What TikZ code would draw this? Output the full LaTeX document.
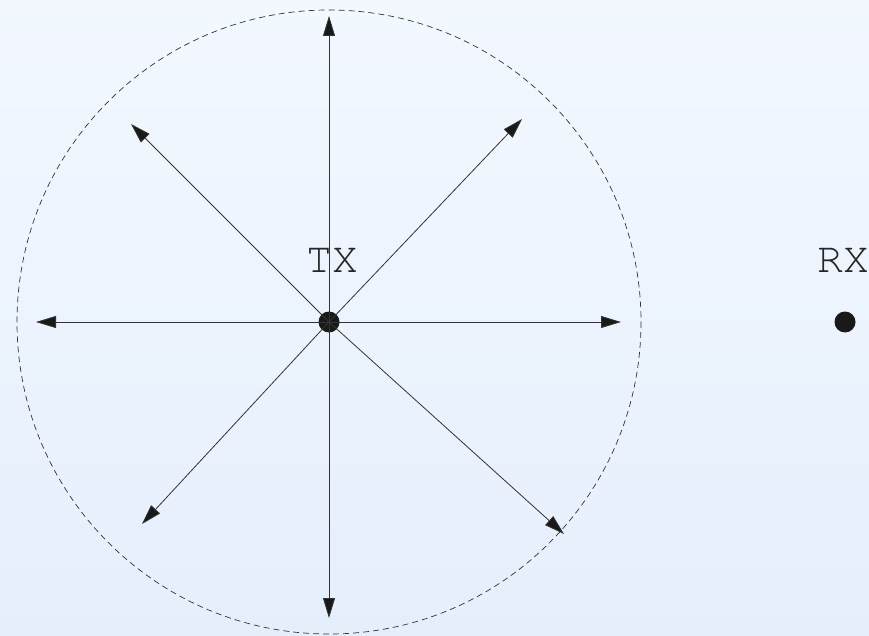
\documentclass[tikz,border=0pt]{standalone}
\usepackage[T1]{fontenc}
\usetikzlibrary{arrows.meta}
\definecolor{bgtop}{RGB}{243,248,255}
\definecolor{bgbottom}{RGB}{229,239,252}

\begin{document}
\begin{tikzpicture}[x=1pt,y=-1pt,
  station/.style={circle,fill=black!90,inner sep=0pt,minimum size=21pt},
  label/.style={font=\fontfamily{pcr}\fontsize{43}{50}\selectfont,inner sep=0pt,text=black!85},
  ray/.style={draw=black!80,line width=0.8pt,-{Triangle[length=20pt,width=12pt,fill=black!90]}}]
\shade[top color=bgtop,bottom color=bgbottom] (0,0) rectangle (869,636);
\useasboundingbox (0,0) rectangle (869,636);
% coverage area
\draw[black!80,line width=0.7pt,dash pattern=on 6pt off 4pt] (329,322) circle (312);
\node[station] (tx) at (329,322) {};
\node[station] (rx) at (845,322) {};
\node[label] (txl) at (332,261) {TX};
\node[label] (rxl) at (843,261) {RX};
% ends of the rays
\coordinate (n) at (329,16);
\coordinate (s) at (329,618);
\coordinate (e) at (621,322);
\coordinate (w) at (36,322);
\coordinate (ne) at (522,119);
\coordinate (nw) at (131,124);
\coordinate (sw) at (142,524);
\coordinate (se) at (564,534);
\foreach \d in {n,s,e,w,ne,nw,sw,se}
  \draw[ray] (tx.center) -- (\d);
\end{tikzpicture}
\end{document}
